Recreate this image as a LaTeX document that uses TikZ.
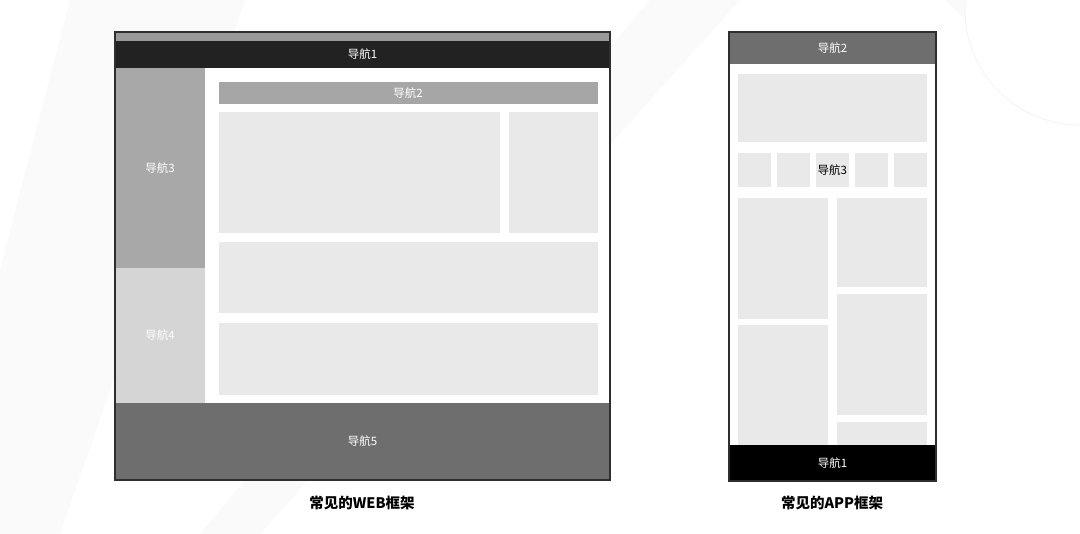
\documentclass[tikz,border=0pt]{standalone}
\usepackage{fontspec}
\setmainfont{Noto Sans CJK SC}
\begin{document}
\begin{tikzpicture}[x=1pt,y=-1pt,
  blk/.style={anchor=north west,inner sep=0pt,outer sep=0pt,draw=none},
  navtxt/.style={text=white,font=\fontsize{11.5}{13}\selectfont},
  cell/.style={blk,fill=cellgray},
  frame/.style={draw=framegray,line width=1.2pt,fill=none},
  caption/.style={font=\fontsize{14.5}{16}\selectfont\bfseries,text=black}]
\definecolor{cellgray}{HTML}{E9E9E9}
\definecolor{framegray}{HTML}{2E2E2E}
\definecolor{stripgray}{HTML}{999999}
\definecolor{navone}{HTML}{222222}
\definecolor{navthree}{HTML}{A8A8A8}
\definecolor{navfour}{HTML}{D5D5D5}
\definecolor{navfive}{HTML}{6E6E6E}
\definecolor{navtwo}{HTML}{A6A6A6}
\definecolor{bgfaint}{HTML}{FAFAFA}
\definecolor{bgline}{HTML}{F0F0F0}
% background
\fill[white] (0,0) rectangle (1080,534);
\useasboundingbox (0,0) rectangle (1080,534);
\fill[bgfaint] (70,0) -- (245,0) -- (60,534) -- (0,534) -- (0,270) -- cycle;
\fill[bgfaint] (650,0) -- (740,0) -- (260,534) -- (200,534) -- cycle;
\fill[bgfaint] (1080,60) arc[start angle=90,end angle=270,radius=180] -- cycle;
\fill[white] (1080,125) arc[start angle=90,end angle=270,radius=115] -- cycle;
\draw[bgline,line width=0.6pt] (1080,125) arc[start angle=90,end angle=270,radius=115];
\draw[bgline,line width=0.6pt] (775,534) arc[start angle=0,end angle=180,radius=75];
% ===== WEB frame =====
\node[blk,fill=stripgray,minimum width=495pt,minimum height=9pt] (wstrip) at (115,32) {};
\node[blk,fill=navone,minimum width=495pt,minimum height=27pt,navtxt] (wnav1) at (115,41) {导航1};
\node[blk,fill=navthree,minimum width=90pt,minimum height=200pt,navtxt] (wnav3) at (115,68) {导航3};
\node[blk,fill=navfour,minimum width=90pt,minimum height=135pt,navtxt] (wnav4) at (115,268) {导航4};
\node[blk,fill=white,minimum width=405pt,minimum height=335pt] (wbody) at (205,68) {};
\node[blk,fill=navtwo,minimum width=379pt,minimum height=22pt,navtxt] (wnav2) at (218.5,82) {导航2};
\node[cell,minimum width=281pt,minimum height=121pt] (wc1) at (218.5,112.5) {};
\node[cell,minimum width=89pt,minimum height=121pt] (wc2) at (508.5,112.5) {};
\node[cell,minimum width=379pt,minimum height=71.5pt] (wc3) at (218.5,242) {};
\node[cell,minimum width=379pt,minimum height=72pt] (wc4) at (218.5,323) {};
\node[blk,fill=navfive,minimum width=495pt,minimum height=77pt,navtxt] (wnav5) at (115,403) {导航5};
\node[blk,frame,minimum width=495pt,minimum height=448pt] (wframe) at (115,32) {};
\node[caption] (wcap) at (362,503) {常见的WEB框架};
% ===== APP frame =====
\node[blk,fill=white,minimum width=207pt,minimum height=381pt] (abody) at (729,64) {};
\node[blk,fill=navfive,minimum width=207pt,minimum height=32pt,navtxt] (anav2) at (729,32) {导航2};
\node[cell,minimum width=188.5pt,minimum height=68.5pt] (abanner) at (738.3,74) {};
\node[cell,minimum width=32.5pt,minimum height=34.5pt] (ai1) at (738.3,152.8) {};
\node[cell,minimum width=32.5pt,minimum height=34.5pt] (ai2) at (777,152.8) {};
\node[cell,minimum width=32.5pt,minimum height=34.5pt,text=black,font=\fontsize{11.5}{13}\selectfont] (ai3) at (816,152.8) {导航3};
\node[cell,minimum width=32.5pt,minimum height=34.5pt] (ai4) at (855,152.8) {};
\node[cell,minimum width=32.5pt,minimum height=34.5pt] (ai5) at (894.2,152.8) {};
\node[cell,minimum width=90pt,minimum height=121pt] (al1) at (738.3,197.7) {};
\node[cell,minimum width=90pt,minimum height=120pt] (al2) at (738.3,325.3) {};
\node[cell,minimum width=89.7pt,minimum height=89pt] (ar1) at (837,197.7) {};
\node[cell,minimum width=89.7pt,minimum height=121.3pt] (ar2) at (837,293.7) {};
\node[cell,minimum width=89.7pt,minimum height=23pt] (ar3) at (837,422.3) {};
\node[blk,fill=black,minimum width=207pt,minimum height=36pt,navtxt] (anav1) at (729,445) {导航1};
\node[blk,frame,minimum width=207pt,minimum height=449pt] (aframe) at (729,32) {};
\node[caption] (acap) at (832,503) {常见的APP框架};
\end{tikzpicture}
\end{document}
